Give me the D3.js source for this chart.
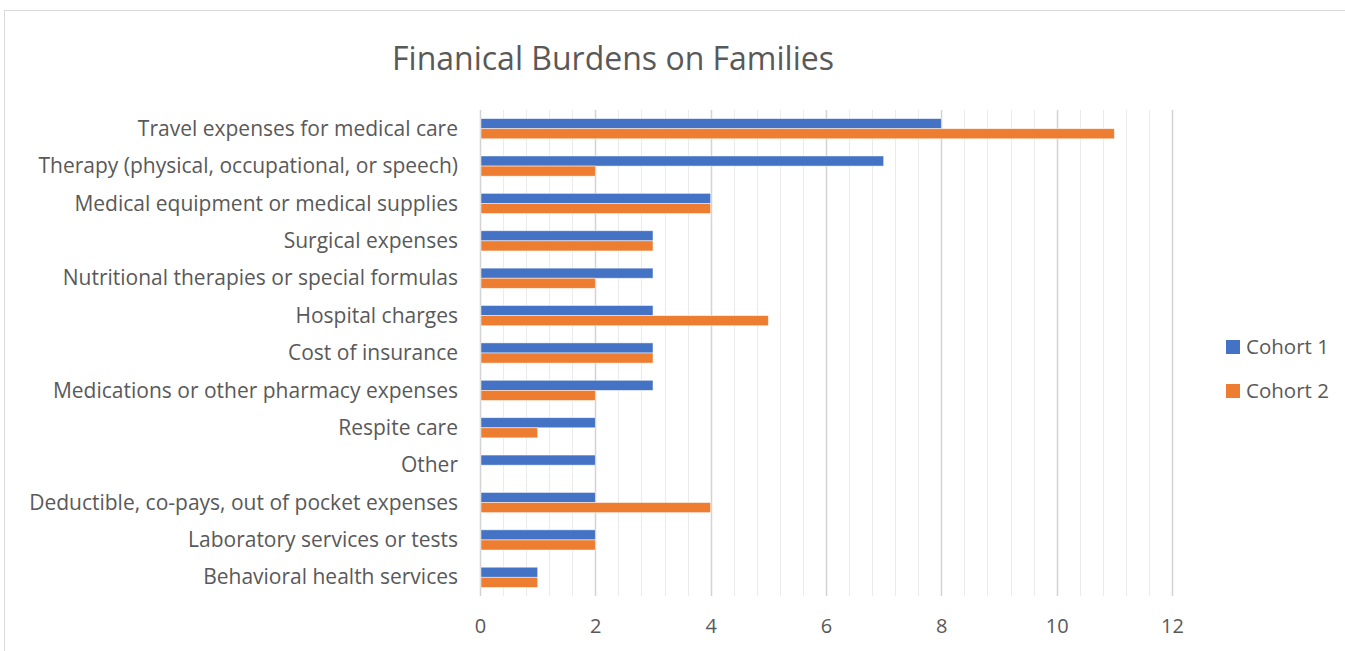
<!DOCTYPE html>
<html>
<head>
<meta charset="utf-8">
<title>Finanical Burdens on Families</title>
<script src="https://d3js.org/d3.v7.min.js"></script>
<style>
  body { margin: 0; padding: 0; background: white; overflow: hidden; }
  text { font-family: "Open Sans", sans-serif; fill: #595959; }
</style>
</head>
<body>
<script>
// data, top row first
var categories = [
  "Travel expenses for medical care",
  "Therapy (physical, occupational, or speech)",
  "Medical equipment or medical supplies",
  "Surgical expenses",
  "Nutritional therapies or special formulas",
  "Hospital charges",
  "Cost of insurance",
  "Medications or other pharmacy expenses",
  "Respite care",
  "Other",
  "Deductible, co-pays, out of pocket expenses",
  "Laboratory services or tests",
  "Behavioral health services"
];
var cohort1 = [8, 7, 4, 3, 3, 3, 3, 3, 2, 2, 2, 2, 1];
var cohort2 = [11, 2, 4, 3, 2, 5, 3, 2, 1, 0, 4, 2, 1];
var seriesNames = ["Cohort 1", "Cohort 2"];
var colors = ["#4472C4", "#ED7D31"];
var xTicks = [0, 2, 4, 6, 8, 10, 12];

var width = 1345, height = 651;
var plotLeft = 480, plotRight = 1172, plotTop = 110, plotBottom = 596;

var svg = d3.select("body").append("svg")
  .attr("width", width)
  .attr("height", height);

// chart frame
svg.append("rect")
  .attr("x", 4.5).attr("y", 10.5)
  .attr("width", width + 10).attr("height", height + 10)
  .attr("fill", "none").attr("stroke", "#d9d9d9");

var x = d3.scaleLinear().domain([0, 12]).range([plotLeft, plotRight]);
var y = d3.scaleBand().domain(categories).range([plotTop, plotBottom]).paddingInner(0.46).paddingOuter(0.23);
var y1 = d3.scaleBand().domain(seriesNames).range([0, y.bandwidth()]);

// minor gridlines
svg.append("g").selectAll("line")
  .data(d3.range(0, 12.01, 0.4).filter(function(v) { return Math.abs(v / 2 - Math.round(v / 2)) > 0.01; }))
  .enter().append("line")
  .attr("x1", function(d) { return Math.round(x(d)) + 0.5; })
  .attr("x2", function(d) { return Math.round(x(d)) + 0.5; })
  .attr("y1", plotTop).attr("y2", plotBottom)
  .attr("stroke", "#ebebeb").attr("stroke-width", 1);

// major gridlines
svg.append("g").selectAll("line")
  .data(xTicks)
  .enter().append("line")
  .attr("x1", function(d) { return Math.round(x(d)) + 0.5; })
  .attr("x2", function(d) { return Math.round(x(d)) + 0.5; })
  .attr("y1", plotTop).attr("y2", plotBottom)
  .attr("stroke", "#d3d3d3").attr("stroke-width", 1.5);

// bars
var rows = categories.map(function(c, i) {
  return { cat: c, vals: [cohort1[i], cohort2[i]] };
});
var grp = svg.append("g").selectAll("g")
  .data(rows)
  .enter().append("g")
  .attr("transform", function(d) { return "translate(0," + y(d.cat) + ")"; });

grp.selectAll("rect")
  .data(function(d) { return d.vals.map(function(v, k) { return { v: v, s: seriesNames[k], k: k }; }); })
  .enter().append("rect")
  .filter(function(d) { return d.v > 0; })
  .attr("x", x(0) + 1)
  .attr("y", function(d) { return y1(d.s); })
  .attr("width", function(d) { return x(d.v) - x(0) - 1; })
  .attr("height", y1.bandwidth())
  .attr("fill", function(d) { return colors[d.k]; })
  .attr("stroke", "white").attr("stroke-opacity", 0.6).attr("stroke-width", 0.8);

// category labels
var yAxis = d3.axisLeft(y).tickSize(0).tickPadding(22);
svg.append("g")
  .attr("transform", "translate(" + plotLeft + ",0)")
  .call(yAxis)
  .call(function(g) { g.select(".domain").remove(); })
  .selectAll("text")
  .attr("dy", "0.34em")
  .style("font-size", "21px")
  .style("font-family", "'Open Sans', sans-serif")
  .attr("fill", "#595959");

// x tick labels
var xAxis = d3.axisBottom(x).tickValues(xTicks).tickSize(0).tickPadding(23);
svg.append("g")
  .attr("transform", "translate(0," + plotBottom + ")")
  .call(xAxis)
  .call(function(g) { g.select(".domain").remove(); })
  .selectAll("text")
  .style("font-size", "20px")
  .style("font-family", "'Open Sans', sans-serif")
  .attr("fill", "#595959");

// title
svg.append("text")
  .attr("x", 613).attr("y", 70)
  .attr("text-anchor", "middle")
  .style("font-size", "32px")
  .text("Finanical Burdens on Families");

// legend
var leg = svg.append("g").selectAll("g")
  .data(seriesNames)
  .enter().append("g")
  .attr("transform", function(d, i) { return "translate(1226," + (340 + i * 44) + ")"; });
leg.append("rect")
  .attr("width", 14).attr("height", 14)
  .attr("fill", function(d, i) { return colors[i]; });
leg.append("text")
  .attr("x", 20).attr("y", 7).attr("dy", "0.35em")
  .style("font-size", "20.5px")
  .text(function(d) { return d; });
</script>
</body>
</html>
